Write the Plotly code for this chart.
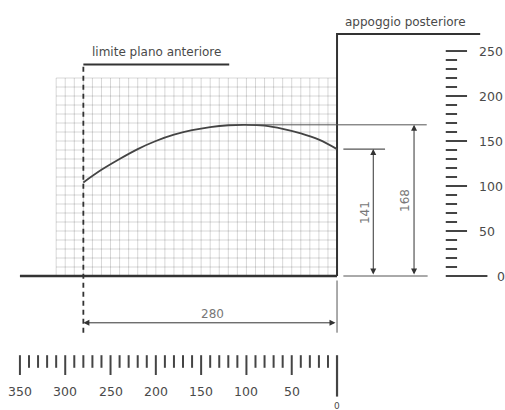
import plotly.graph_objects as go

# ---------------- data ----------------
curve_dist = [280, 260, 240, 220, 200, 180, 160, 140, 120, 100, 80, 60, 40, 20, 0]
curve_height = [104, 118, 130, 141, 150, 157, 162, 165.5, 167.5, 168, 167, 163.5, 158.5, 151.5, 141]

front_limit = 280        # limite piano anteriore
rear_height = 141        # height at rear support
max_height = 168         # max height of curve
peak_dist = 100

grid_width = 310
grid_height = 220
grid_step = 10
floor_length = 350
wall_height = 269

h_ruler_ticks = list(range(0, 351, 10))
h_ruler_labels = [350, 300, 250, 200, 150, 100, 50]
v_ruler_ticks = list(range(0, 251, 10))
v_ruler_labels = [250, 200, 150, 100, 50]

label_front = "limite plano anteriore"
label_rear = "appoggio posteriore"

# ---------------- styles ----------------
DARK = "#333333"
MID = "#555555"
TXT = "#4a4a4a"
FONT = "DejaVu Sans"

fig = go.Figure()

def seg_trace(xs, ys, color, width, dash="solid"):
    fig.add_trace(go.Scatter(x=xs, y=ys, mode="lines", hoverinfo="skip",
                             line=dict(color=color, width=width, dash=dash),
                             showlegend=False))

# grid
gx, gy = [], []
for u in range(0, grid_width + 1, grid_step):
    gx += [u, u, None]; gy += [0, grid_height, None]
for v in range(0, grid_height + 1, grid_step):
    gx += [0, grid_width, None]; gy += [v, v, None]
seg_trace(gx, gy, "rgba(0,0,0,0.2)", 0.8)

# floor
seg_trace([floor_length, 0], [0, 0], DARK, 2.6)
# rear wall + top
seg_trace([0, 0, -158], [0, wall_height, wall_height], DARK, 2)
# rear extension below floor
seg_trace([0, 0], [-5, -63], MID, 1)

# front limit dashed
seg_trace([front_limit, front_limit], [-63, 235], DARK, 1.8, "5px,4px")
seg_trace([front_limit, 119], [235, 235], DARK, 2)

# curve
fig.add_trace(go.Scatter(x=curve_dist, y=curve_height, mode="lines", hoverinfo="skip",
                         line=dict(color="#444444", width=1.8, shape="spline"),
                         showlegend=False))

# reference lines for dimensions
seg_trace([peak_dist, -99], [max_height, max_height], MID, 1)
seg_trace([-7, -53], [rear_height, rear_height], MID, 1.2)
seg_trace([-7, -100], [0, 0], MID, 1)

# dimension arrows
def dim_arrow(x0, y0, x1, y1):
    fig.add_annotation(x=x1, y=y1, ax=x0, ay=y0, xref="x", yref="y", axref="x", ayref="y",
                       text="", showarrow=True, arrowhead=2, startarrowhead=2,
                       arrowside="end+start", arrowsize=1.2, arrowwidth=1, arrowcolor="#333")

dim_arrow(-40, 0, -40, rear_height)
dim_arrow(-85, 0, -85, max_height)
dim_arrow(0, -52, front_limit, -52)

fig.add_annotation(x=-31, y=70, text=str(rear_height), showarrow=False, textangle=-90,
                   font=dict(family=FONT, size=12, color="#777"))
fig.add_annotation(x=-75, y=84.5, text=str(max_height), showarrow=False, textangle=-90,
                   font=dict(family=FONT, size=12, color="#777"))
fig.add_annotation(x=138, y=-42, text=str(front_limit), showarrow=False,
                   font=dict(family=FONT, size=12, color="#777"))

# bottom ruler
rx_min, ry_min = [], []
rx_maj, ry_maj = [], []
for t in h_ruler_ticks:
    if t == 0:
        continue
    if t % 50 == 0:
        rx_maj += [t, t, None]; ry_maj += [-88, -110, None]
    else:
        rx_min += [t, t, None]; ry_min += [-88, -102, None]
seg_trace(rx_min, ry_min, "#444", 2)
seg_trace(rx_maj, ry_maj, "#444", 2)
seg_trace([0, 0], [-88, -134], "#444", 2.2)
for t in h_ruler_labels:
    fig.add_annotation(x=t, y=-128, text=str(t), showarrow=False,
                       font=dict(family=FONT, size=12.5, color=TXT))
fig.add_annotation(x=0, y=-144, text="0", showarrow=False,
                   font=dict(family=FONT, size=9, color=TXT))

# vertical ruler
vx_min, vy_min = [], []
vx_maj, vy_maj = [], []
for t in v_ruler_ticks:
    if t == 0:
        continue
    if t % 50 == 0:
        vx_maj += [-120, -143.5, None]; vy_maj += [t, t, None]
    else:
        vx_min += [-120, -132.5, None]; vy_min += [t, t, None]
seg_trace(vx_min, vy_min, "#444", 2)
seg_trace(vx_maj, vy_maj, "#444", 2)
seg_trace([-120, -166], [0, 0], "#444", 2)
for t in v_ruler_labels:
    fig.add_annotation(x=-154.5, y=t, text=str(t), showarrow=False, xanchor="left",
                       font=dict(family=FONT, size=12.5, color=TXT))
fig.add_annotation(x=-174, y=0, text="0", showarrow=False, xanchor="left",
                   font=dict(family=FONT, size=12.5, color=TXT))

# labels
fig.add_annotation(x=199, y=249, text=label_front, showarrow=False,
                   font=dict(family=FONT, size=12, color=TXT))
fig.add_annotation(x=-76, y=282, text=label_rear, showarrow=False,
                   font=dict(family=FONT, size=12, color=TXT))

fig.update_layout(
    width=505, height=410,
    margin=dict(l=0, r=0, t=0, b=0),
    paper_bgcolor="white", plot_bgcolor="white",
    xaxis=dict(range=[372, -185.4], visible=False, fixedrange=True),
    yaxis=dict(range=[-148.9, 306.7], visible=False, fixedrange=True),
    showlegend=False,
    hovermode=False,
)

# remove the default 8px body margin so the 505x410 figure fills the window exactly
fig.write_html("out.html",
               config={"displayModeBar": False, "staticPlot": True},
               post_script="document.body.style.margin='0';document.body.style.overflow='hidden';")
